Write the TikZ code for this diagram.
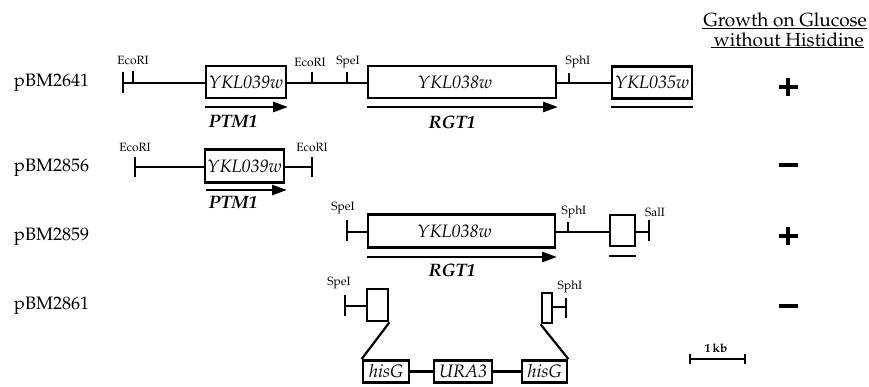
\documentclass[tikz,border=0pt]{standalone}
\usepackage[T1]{fontenc}
\usepackage{mathpazo}
\usetikzlibrary{arrows.meta}
\begin{document}
\begin{tikzpicture}[x=1pt,y=-1pt,
  gene/.style={draw,line width=2.8pt,inner sep=0pt,minimum height=32pt,font=\fontsize{18}{18}\selectfont\itshape},
  small/.style={draw,line width=2.8pt,inner sep=0pt},
  cas/.style={draw,line width=2.8pt,inner sep=0pt,minimum height=22pt,font=\fontsize{18}{18}\selectfont\itshape},
  dna/.style={line width=2.5pt},
  endbar/.style={line width=2.8pt},
  tickln/.style={line width=1.7pt},
  site/.style={font=\fontsize{12}{12}\selectfont,inner sep=0pt},
  plabel/.style={font=\fontsize{18}{18}\selectfont,anchor=west,inner sep=0pt},
  orf/.style={line width=2.7pt,-{Triangle[length=15pt,width=10pt]}},
  uline/.style={line width=2.7pt},
  gname/.style={font=\fontsize{18}{18}\selectfont\bfseries\itshape,inner sep=0pt},
  signln/.style={line width=3.2pt},
  hdr/.style={font=\fontsize{19}{19}\selectfont,inner sep=0pt,anchor=east}
]
\fill[white] (0,0) rectangle (869,387);

% header
\node[hdr] (h1) at (867,20) {Growth on Glucose};
\node[hdr] (h2) at (864,40) {without Histidine};
\draw[line width=0.9pt] (702,28) -- (867,28);
\draw[line width=0.9pt] (711,47) -- (864,47);

% plasmid labels
\node[plabel] (p1) at (14,83) {pBM2641};
\node[plabel] (p2) at (14,168) {pBM2856};
\node[plabel] (p3) at (14,237) {pBM2859};
\node[plabel] (p4) at (14,306) {pBM2861};

% growth signs
\coordinate (s1) at (788,87);
\coordinate (s2) at (788,165);
\coordinate (s3) at (788,236);
\coordinate (s4) at (788,306);
\draw[signln] ([xshift=-9.5]s1) -- ([xshift=9.5]s1) ([yshift=-9]s1) -- ([yshift=9]s1);
\draw[signln] ([xshift=-9.5]s2) -- ([xshift=9.5]s2);
\draw[signln] ([xshift=-9.5]s3) -- ([xshift=9.5]s3) ([yshift=-9]s3) -- ([yshift=9]s3);
\draw[signln] ([xshift=-9.5]s4) -- ([xshift=9.5]s4);

% ---------- row 1 ----------
\coordinate (r1L) at (123,83);
\node[gene,minimum width=80pt] (g39a) at (246,82) {YKL039w};
\node[gene,minimum width=188pt] (g38a) at (462,82) {YKL038w\hspace*{14pt}};
\node[gene,minimum width=80pt] (g35a) at (652,82.5) {YKL035w};
\draw[endbar] (123,72) -- (123,93);
\draw[dna] (r1L) -- (g39a.west |- r1L);
\draw[dna] (g39a.east |- r1L) -- (g38a.west |- r1L);
\draw[dna] (g38a.east |- r1L) -- (g35a.west |- r1L);
\draw[tickln] (133,71) -- (133,83);
\draw[tickln] (312,72) -- (312,83);
\draw[tickln] (347,72) -- (347,83);
\draw[tickln] (569,73) -- (569,83);
\node[site] (e1) at (133,60) {EcoRI};
\node[site] (e2) at (310,62) {EcoRI};
\node[site] (sp1) at (348,62) {SpeI};
\node[site] (sh1) at (578,62) {SphI};
\draw[orf] (205,107) -- (288,107);
\draw[orf] (367,107) -- (558,107);
\draw[uline] (611,107) -- (693,107);
\node[gname] (n1) at (233,122) {PTM1};
\node[gname] (n2) at (452,122) {RGT1};

% ---------- row 2 ----------
\coordinate (r2L) at (135,167);
\coordinate (r2R) at (312,167);
\node[gene,minimum width=79pt,minimum height=33pt] (g39b) at (244.5,166) {YKL039w};
\draw[endbar] (135,157) -- (135,177);
\draw[endbar] (312,157) -- (312,177);
\draw[dna] (r2L) -- (g39b.west |- r2L);
\draw[dna] (g39b.east |- r2R) -- (r2R);
\node[site] (e3) at (135,147) {EcoRI};
\node[site] (e4) at (312,147) {EcoRI};
\draw[orf] (206,190) -- (287,190);
\node[gname] (n3) at (233,203) {PTM1};

% ---------- row 3 ----------
\coordinate (r3L) at (347,232);
\coordinate (r3R) at (649,232);
\node[gene,minimum width=187pt,minimum height=33pt] (g38b) at (461.5,231) {YKL038w\hspace*{14pt}};
\node[small,minimum width=25pt,minimum height=31pt] (b3) at (622.5,230.5) {};
\draw[endbar] (347,220) -- (347,241);
\draw[endbar] (649,220) -- (649,241);
\draw[dna] (r3L) -- (g38b.west |- r3L);
\draw[dna] (g38b.east |- r3L) -- (b3.west |- r3L);
\draw[dna] (b3.east |- r3R) -- (r3R);
\draw[tickln] (568,222) -- (568,232);
\node[site] (sp2) at (343,208) {SpeI};
\node[site] (sh2) at (574,212) {SphI};
\node[site] (sa) at (655,212) {SalI};
\draw[orf] (367,257) -- (557,257);
\draw[uline] (609,256) -- (636,256);
\node[gname] (n4) at (452,270) {RGT1};

% ---------- row 4 ----------
\coordinate (r4L) at (345,306);
\coordinate (r4R) at (566,307);
\node[small,minimum width=21pt,minimum height=32pt] (b4a) at (377.5,305) {};
\node[small,minimum width=10pt,minimum height=30pt] (b4b) at (547,308) {};
\draw[endbar] (345,295) -- (345,316);
\draw[endbar] (566,298) -- (566,318);
\draw[dna] (r4L) -- (b4a.west |- r4L);
\draw[dna] (b4b.east |- r4R) -- (r4R);
\node[site] (sp3) at (339,283) {SpeI};
\node[site] (sh3) at (570,287) {SphI};

\node[cas,minimum width=46pt] (hg1) at (386,371.5) {hisG};
\node[cas,minimum width=58pt] (ura) at (463,371.5) {URA3};
\node[cas,minimum width=45pt] (hg2) at (544.5,371.5) {hisG};
\draw[dna] (hg1.east) -- (ura.west);
\draw[dna] (ura.east) -- (hg2.west);
\draw[line width=2.2pt] (b4a.south east) -- (hg1.north west);
\draw[line width=2.2pt] (b4b.south west) -- (hg2.north east);

% scale bar
\coordinate (kbL) at (690,359);
\coordinate (kbR) at (745,359);
\draw[line width=1.8pt] (kbL) -- (kbR);
\draw[line width=1.8pt] (690,354) -- (690,364);
\draw[line width=1.8pt] (745,354) -- (745,364);
\node[site,font=\fontsize{12}{12}\selectfont\bfseries] (kb) at (716,348) {1\,kb};
\end{tikzpicture}
\end{document}
